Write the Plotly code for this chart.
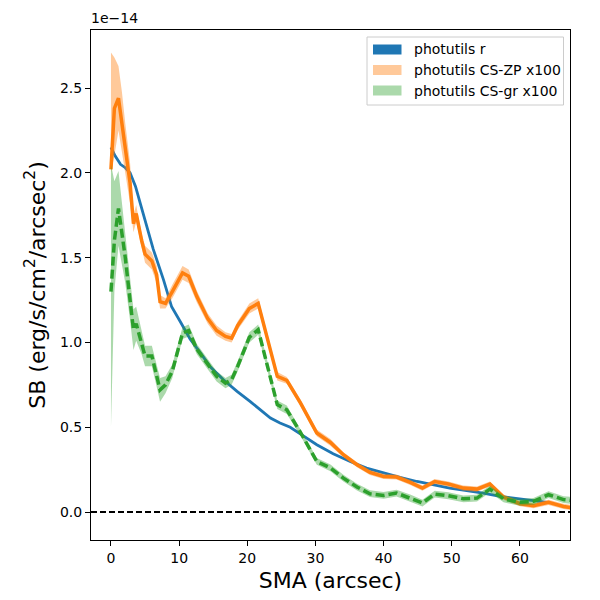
import plotly.graph_objects as go

# ---------------- data (SB in units of 1e-14 erg/s/cm^2/arcsec^2) ----------------
sma_r = [0, 0.6, 1.4, 2.1, 2.8, 3.6, 4.3, 5.0, 6.2, 7.7, 8.9, 10.2, 11.6, 13.1, 14.6,
         16.5, 18.5, 20.4, 21.9, 23.4, 24.8, 26.3, 28.0, 30.2, 32.6, 35.1, 37.5, 40.0,
         42.4, 44.9, 47.3, 49.7, 52.2, 54.6, 57.1, 59.5, 62.0, 64.0]
sb_r = [2.15, 2.10, 2.05, 2.03, 2.00, 1.92, 1.82, 1.72, 1.55, 1.37, 1.21, 1.12, 1.02, 0.94, 0.855,
        0.78, 0.711, 0.652, 0.603, 0.554, 0.525, 0.50, 0.455, 0.397, 0.344, 0.298, 0.259, 0.23,
        0.204, 0.18, 0.161, 0.141, 0.126, 0.112, 0.092, 0.08, 0.068, 0.057]

sma_cs = [0, 0.5, 1.1, 1.6, 2.1, 2.8, 3.3, 3.7, 4.5, 5.0, 6.0, 6.7, 7.2, 8.0, 9.0,
          10.5, 11.4, 12.6, 14.2, 15.5, 16.8, 17.7, 18.6, 20.3, 21.6, 23.0, 24.4, 25.8,
          27.8, 30.2, 32.2, 34.1, 36.1, 38.0, 40.0, 41.9, 43.9, 45.7, 47.5, 49.5, 51.7,
          53.7, 55.6, 57.6, 60.0, 62.0, 64.2, 66.4, 68.5]
sb_zp = [2.02, 2.38, 2.44, 2.30, 2.14, 1.94, 1.70, 1.76, 1.60, 1.52, 1.48, 1.40, 1.24, 1.23, 1.30,
         1.41, 1.39, 1.27, 1.14, 1.07, 1.035, 1.025, 1.10, 1.20, 1.23, 1.02, 0.80, 0.776,
         0.643, 0.466, 0.41, 0.338, 0.279, 0.233, 0.21, 0.206, 0.175, 0.141, 0.18, 0.165, 0.141,
         0.135, 0.165, 0.088, 0.049, 0.037, 0.057, 0.033, 0.02]
zp_err_up = [0.69, 0.30, 0.19, 0.18, 0.15, 0.12, 0.05, 0.05, 0.04, 0.05, 0.05, 0.05, 0.04, 0.03, 0.04,
             0.04, 0.04, 0.035, 0.03, 0.03, 0.025, 0.025, 0.025, 0.03, 0.03, 0.025, 0.025, 0.02,
             0.02, 0.02, 0.02, 0.015, 0.015, 0.015, 0.015, 0.015, 0.015, 0.015, 0.015, 0.015, 0.015,
             0.015, 0.015, 0.015, 0.015, 0.015, 0.015, 0.015, 0.015]
zp_err_dn = [0.02, 0.28, 0.19, 0.18, 0.15, 0.12, 0.05, 0.05, 0.04, 0.05, 0.05, 0.05, 0.04, 0.03, 0.04,
             0.04, 0.04, 0.035, 0.03, 0.03, 0.025, 0.025, 0.025, 0.03, 0.03, 0.025, 0.025, 0.02,
             0.02, 0.02, 0.02, 0.015, 0.015, 0.015, 0.015, 0.015, 0.015, 0.015, 0.015, 0.015, 0.015,
             0.015, 0.015, 0.015, 0.015, 0.015, 0.015, 0.015, 0.015]
sb_gr = [1.30, 1.60, 1.79, 1.65, 1.50, 1.25, 1.075, 1.11, 1.00, 0.92, 0.92, 0.80, 0.72, 0.75, 0.83,
         1.055, 1.07, 0.96, 0.868, 0.80, 0.76, 0.78, 0.86, 1.03, 1.075, 0.86, 0.633, 0.603,
         0.47, 0.298, 0.26, 0.20, 0.147, 0.108, 0.098, 0.112, 0.083, 0.053, 0.106, 0.096, 0.078,
         0.082, 0.135, 0.077, 0.057, 0.063, 0.102, 0.073, 0.065]
gr_err_up = [0.75, 0.35, 0.22, 0.18, 0.15, 0.12, 0.12, 0.10, 0.07, 0.06, 0.06, 0.06, 0.07, 0.05, 0.04,
             0.035, 0.035, 0.03, 0.03, 0.03, 0.03, 0.03, 0.03, 0.03, 0.03, 0.03, 0.025, 0.025,
             0.02, 0.02, 0.02, 0.02, 0.02, 0.02, 0.02, 0.02, 0.02, 0.02, 0.02, 0.02, 0.02,
             0.02, 0.02, 0.02, 0.02, 0.02, 0.02, 0.02, 0.02]
gr_err_dn = [0.80, 0.30, 0.22, 0.18, 0.15, 0.12, 0.12, 0.10, 0.07, 0.06, 0.06, 0.06, 0.07, 0.05, 0.04,
             0.035, 0.035, 0.03, 0.03, 0.03, 0.03, 0.03, 0.03, 0.03, 0.03, 0.03, 0.025, 0.025,
             0.02, 0.02, 0.02, 0.02, 0.02, 0.02, 0.02, 0.02, 0.02, 0.02, 0.02, 0.02, 0.02,
             0.02, 0.02, 0.02, 0.02, 0.02, 0.02, 0.02, 0.02]

legend_labels = ["photutils r", "photutils CS-ZP x100", "photutils CS-gr x100"]
x_ticks = [0, 10, 20, 30, 40, 50, 60]
y_ticks = [0.0, 0.5, 1.0, 1.5, 2.0, 2.5]

assert len(sma_r) == len(sb_r)
for arr in (sb_zp, zp_err_up, zp_err_dn, sb_gr, gr_err_up, gr_err_dn):
    assert len(arr) == len(sma_cs)

# ---------------- styling ----------------
BLUE, ORANGE, GREEN = "#1f77b4", "#ff7f0e", "#2ca02c"
ORANGE_FILL = "rgba(255,127,14,0.42)"
GREEN_FILL = "rgba(44,160,44,0.40)"
FONT = "DejaVu Sans"

# the page body adds an 8 px offset, so the figure is 592 px and margins are reduced by 8
OFF = 8
W, H = 592, 592
ML, MR, MT, MB = 91 - OFF, 30, 30 - OFF, 60
X_RANGE = [-2.93, 67.35]
Y_RANGE = [-0.165, 2.842]

fig = go.Figure()

# blue profile
fig.add_trace(go.Scatter(x=sma_r, y=sb_r, mode="lines",
                         line=dict(color=BLUE, width=2.8), showlegend=False, hoverinfo="skip"))

# orange band + line
fig.add_trace(go.Scatter(x=sma_cs, y=[v - e for v, e in zip(sb_zp, zp_err_dn)], mode="lines",
                         line=dict(width=0, color=ORANGE_FILL), showlegend=False, hoverinfo="skip"))
fig.add_trace(go.Scatter(x=sma_cs, y=[v + e for v, e in zip(sb_zp, zp_err_up)], mode="lines",
                         line=dict(width=0, color=ORANGE_FILL), fill="tonexty", fillcolor=ORANGE_FILL,
                         showlegend=False, hoverinfo="skip"))
fig.add_trace(go.Scatter(x=sma_cs, y=sb_zp, mode="lines",
                         line=dict(color=ORANGE, width=3.5), showlegend=False, hoverinfo="skip"))

# green band + dashed line
fig.add_trace(go.Scatter(x=sma_cs, y=[v - e for v, e in zip(sb_gr, gr_err_dn)], mode="lines",
                         line=dict(width=0, color=GREEN_FILL), showlegend=False, hoverinfo="skip"))
fig.add_trace(go.Scatter(x=sma_cs, y=[v + e for v, e in zip(sb_gr, gr_err_up)], mode="lines",
                         line=dict(width=0, color=GREEN_FILL), fill="tonexty", fillcolor=GREEN_FILL,
                         showlegend=False, hoverinfo="skip"))
fig.add_trace(go.Scatter(x=sma_cs, y=sb_gr, mode="lines",
                         line=dict(color=GREEN, width=3.5, dash="9px,4px"), showlegend=False,
                         hoverinfo="skip"))

# zero reference line
fig.add_shape(type="line", xref="paper", yref="y", x0=0, x1=1, y0=0, y1=0,
              line=dict(color="black", width=1.8, dash="6px,3px"))

# ---------------- manual matplotlib-style legend (positions in screen px) ----------------
pw, ph = W - ML - MR, H - MT - MB


def px_x(p):
    return (p - OFF - ML) / pw


def px_y(p):
    return (H - MB - (p - OFF)) / ph


fig.add_shape(type="rect", xref="paper", yref="paper",
              x0=px_x(367), x1=px_x(563.5), y0=px_y(105), y1=px_y(37),
              line=dict(color="#cccccc", width=1), fillcolor="rgba(255,255,255,0.8)")
legend_colors = [BLUE, ORANGE_FILL, GREEN_FILL]
row_y = [49.5, 70.0, 90.5]
for lab, col, ry in zip(legend_labels, legend_colors, row_y):
    fig.add_shape(type="rect", xref="paper", yref="paper",
                  x0=px_x(373), x1=px_x(401.5), y0=px_y(ry + 5), y1=px_y(ry - 5),
                  line=dict(width=0), fillcolor=col)
    fig.add_annotation(xref="paper", yref="paper", x=px_x(412), y=px_y(ry),
                       xanchor="left", yanchor="middle", text=lab, showarrow=False,
                       font=dict(family=FONT, size=14, color="black"))

# offset text
fig.add_annotation(xref="paper", yref="paper", x=0, y=1, xanchor="left", yanchor="bottom",
                   text="1e\u221214", showarrow=False, yshift=2, xshift=-2,
                   font=dict(family=FONT, size=14, color="black"))

axis_common = dict(showline=True, linecolor="black", linewidth=1.1, mirror=True,
                   ticks="outside", ticklen=5, tickwidth=1.1, tickcolor="black",
                   showgrid=False, zeroline=False, automargin=False,
                   tickfont=dict(family=FONT, size=14, color="black"))

fig.update_layout(
    width=W, height=H,
    margin=dict(l=ML, r=MR, t=MT, b=MB),
    plot_bgcolor="white", paper_bgcolor="white",
    showlegend=False,
    font=dict(family=FONT, color="black"),
    xaxis=dict(range=X_RANGE, tickvals=x_ticks, ticktext=[str(t) for t in x_ticks],
               title=dict(text="SMA (arcsec)", font=dict(family=FONT, size=22), standoff=7),
               **axis_common),
    yaxis=dict(range=Y_RANGE, tickvals=y_ticks, ticktext=[f"{t:.1f}" for t in y_ticks],
               title=dict(text="SB (erg/s/cm<sup>2</sup>/arcsec<sup>2</sup>)",
                          font=dict(family=FONT, size=22), standoff=8),
               **axis_common),
)

fig.write_html("out.html")
